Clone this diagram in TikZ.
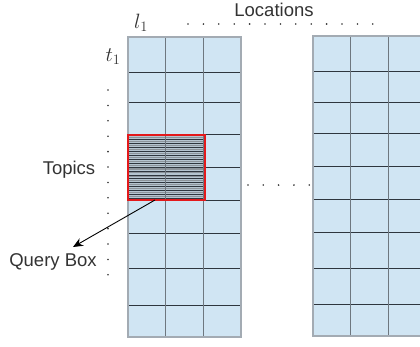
\documentclass[tikz,border=0pt]{standalone}
\usepackage{fontspec}
\setsansfont{Liberation Sans}
\usetikzlibrary{arrows.meta}
\definecolor{cellfill}{HTML}{D0E5F3}
\definecolor{hcol}{HTML}{2E363E}
\definecolor{vcol}{HTML}{6E777F}
\definecolor{edgecol}{HTML}{A3ABB3}
\definecolor{labelcol}{HTML}{333333}
\definecolor{boxred}{HTML}{E3191B}
\definecolor{hatchgray}{HTML}{8C949B}
\tikzset{
  hline/.style={draw=hcol, line width=1pt},
  vline/.style={draw=vcol, line width=0.9pt},
  gridedge/.style={draw=edgecol, line width=1.3pt},
  lbl/.style={font=\sffamily\fontsize{18.5}{20}\selectfont, text=labelcol, inner sep=0pt},
  mathlbl/.style={font=\fontsize{21}{23}\selectfont, text=labelcol, inner sep=0pt},
  qbox/.style={draw=boxred, line width=2.8pt, minimum width=77pt, minimum height=65pt, inner sep=0pt},
  dotmark/.style={fill=labelcol},
  pointer/.style={draw=black, line width=0.9pt, -{Stealth[length=10pt,width=8.5pt]}}
}
\begin{document}
\begin{tikzpicture}[x=1pt,y=-1pt]
\useasboundingbox (0,0) rectangle (420,346);

% left block of cells
\fill[cellfill] (128,37) rectangle (241,337);
% right block of cells (runs past the right edge)
\fill[cellfill] (313,36) rectangle (430,336);

% striped query region
\fill[cellfill!60!hatchgray] (128,135) rectangle (205,200);
\foreach \k in {0,...,15} {
  \draw[hatchgray, line width=1.1pt] (128,{137.8+3.9*\k}) -- (205,{137.8+3.9*\k});
  \draw[hcol, line width=0.6pt] (128,{139.7+3.9*\k}) -- (205,{139.7+3.9*\k});
}

% row lines
\foreach \y in {72,102,134,167,200,233,268,305} {
  \draw[hline] (128,\y) -- (241,\y);
}
\foreach \y in {71,102,133,166,199,232,268,304} {
  \draw[hline] (313,\y) -- (420,\y);
}
% column lines
\foreach \x in {165,203} { \draw[vline] (\x,37) -- (\x,337); }
\foreach \x in {350,388} { \draw[vline] (\x,36) -- (\x,336); }

% outer edges
\draw[gridedge] (128,37) rectangle (241,337);
\draw[gridedge] (430,36) -- (313,36) -- (313,336) -- (430,336);

% query box
\node[qbox] (qbox) at (166.5,167.5) {};

% dotted ellipses
\foreach \i in {0,...,12} { \fill[dotmark] (108,{90+15.4*\i}) circle (0.9); }
\foreach \i in {0,...,12} { \fill[dotmark] ({188+15.4*\i},24) circle (0.9); }
\foreach \i in {0,...,4} { \fill[dotmark] ({248+15.3*\i},185) circle (0.9); }

% labels
\node[lbl] (locations) at (274,10) {Locations};
\node[mathlbl] (lone) at (141,23) {$l_1$};
\node[mathlbl] (tone) at (113,57) {$t_1$};
\node[lbl] (topics) at (69,170) {Topics};
\node[lbl] (querylabel) at (53,262) {Query Box};

% pointer from the query box to its label
\coordinate (qstart) at (155,200);
\coordinate (qtip) at (73,247);
\draw[pointer] (qstart) -- (qtip);
\end{tikzpicture}
\end{document}
